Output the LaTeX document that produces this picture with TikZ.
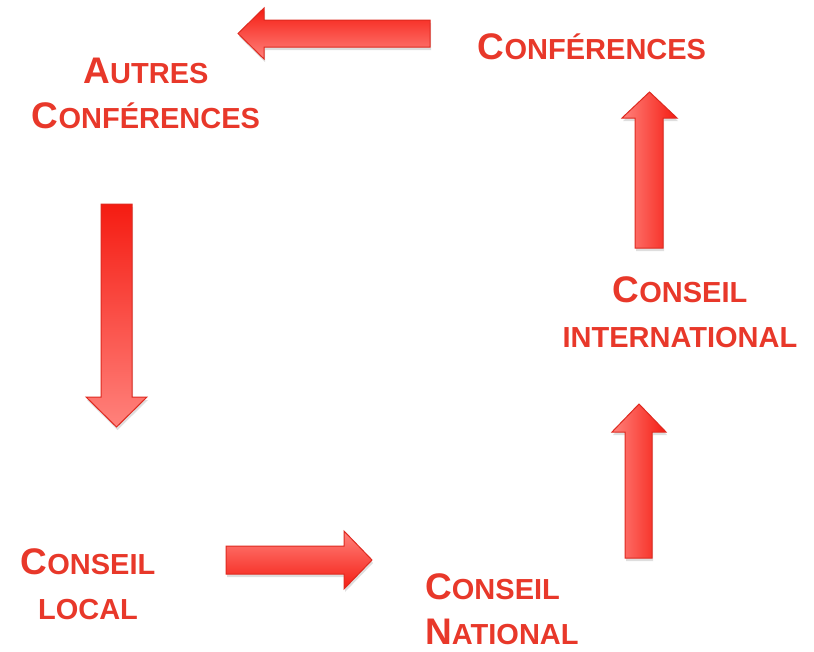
\documentclass[tikz,border=0pt]{standalone}
\usepackage{fontspec}
\setmainfont{Liberation Sans}
\usepackage{tikz}

\definecolor{labelred}{RGB}{232,56,42}
\definecolor{arrowdark}{RGB}{245,28,18}
\definecolor{arrowlight}{RGB}{255,130,124}
\definecolor{arrowedge}{RGB}{222,42,32}

\newcommand{\bigini}[1]{{\fontsize{37}{45}\selectfont #1}}

\tikzset{
  label/.style={text=labelred, font=\bfseries\fontsize{29}{45}\selectfont, inner sep=0pt},
  blockarrow/.style={draw=arrowedge, line width=1pt, line join=miter,
    preaction={fill=black, opacity=0.13, transform canvas={shift={(1pt,-3pt)}}}}
}

\begin{document}
\begin{tikzpicture}[x=1pt,y=1pt]
\useasboundingbox (0,0) rectangle (814,-651);
% labels (base = last line)
\node [label, anchor=base] (conf) at (592,-59) {\bigini{C}ONFÉRENCES};
\node [label, anchor=base, align=center] (autres) at (146,-128) {\bigini{A}UTRES\\ \bigini{C}ONFÉRENCES};
\node [label, anchor=base, align=center] (intl) at (680,-347) {\bigini{C}ONSEIL\\ INTERNATIONAL};
\node [label, anchor=base, align=center] (local) at (88,-619) {\bigini{C}ONSEIL\\ LOCAL};
\node [label, anchor=base west, align=left] (natl) at (425,-644) {\bigini{C}ONSEIL\\ \bigini{N}ATIONAL};
% arrows
\shade [blockarrow, top color=arrowdark, bottom color=arrowlight]
  (430,-20) -- (264,-20) -- (264,-8) -- (238,-33.5) -- (264,-59) -- (264,-47) -- (430,-47) -- cycle;
\shade [blockarrow, top color=arrowdark, bottom color=arrowlight]
  (101,-204) -- (101,-397) -- (86,-397) -- (116.5,-427) -- (147,-397) -- (132,-397) -- (132,-204) -- cycle;
\shade [blockarrow, top color=arrowlight, bottom color=arrowdark]
  (226,-546) -- (344,-546) -- (344,-531) -- (372,-560) -- (344,-589) -- (344,-574) -- (226,-574) -- cycle;
\shade [blockarrow, left color=arrowlight, right color=arrowdark]
  (625,-558) -- (625,-432) -- (612,-432) -- (639,-404) -- (666,-432) -- (652,-432) -- (652,-558) -- cycle;
\shade [blockarrow, left color=arrowlight, right color=arrowdark]
  (635,-248) -- (635,-118) -- (622,-118) -- (649.5,-92) -- (677,-118) -- (663,-118) -- (663,-248) -- cycle;
\end{tikzpicture}
\end{document}
